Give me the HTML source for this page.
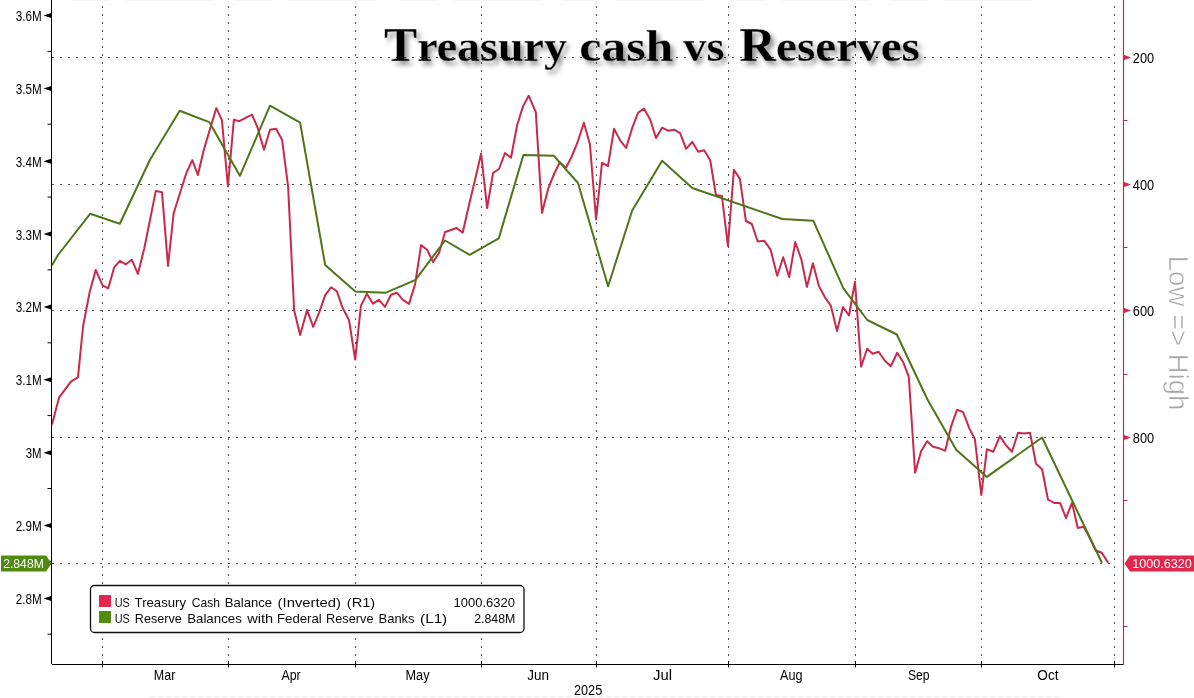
<!DOCTYPE html>
<html><head><meta charset="utf-8"><title>Treasury cash vs Reserves</title>
<style>
html,body{margin:0;padding:0;background:#fff}
body{width:1194px;height:698px;overflow:hidden;position:relative;font-family:"Liberation Sans",sans-serif}
svg{position:absolute;left:0;top:0;display:block;will-change:transform}
text{font-family:"Liberation Sans",sans-serif}
.t{font-family:"Liberation Serif",serif;font-weight:bold}
</style></head><body>
<svg width="1194" height="698" viewBox="0 0 1194 698">
<defs><filter id="sh" x="-5%" y="-30%" width="110%" height="170%"><feGaussianBlur stdDeviation="2.6"/></filter></defs>
<rect width="1194" height="698" fill="#fff"/>
<g stroke="#555" stroke-width="1" stroke-dasharray="2 6" fill="none"><path d="M102.5 664V0"/><path d="M228.5 664V0"/><path d="M355.5 664V0"/><path d="M481.5 664V0"/><path d="M596.5 664V0"/><path d="M728.5 664V0"/><path d="M855.5 664V0"/><path d="M981.5 664V0"/><path d="M1114.5 664V0"/><path d="M52 57.5H1116"/><path d="M52 184.5H1116"/><path d="M52 310.5H1116"/><path d="M52 437.5H1116"/><path d="M52 563.5H1116"/></g>
<g filter="url(#sh)" opacity="0.42"><text class="t" x="387.5" y="65.0" textLength="182.8" lengthAdjust="spacingAndGlyphs" fill="#000"><tspan font-size="47.5">T</tspan><tspan font-size="44">reasury</tspan></text><text class="t" x="582.7" y="65.0" textLength="94.0" lengthAdjust="spacingAndGlyphs" fill="#000"><tspan font-size="44">c</tspan><tspan font-size="44">ash</tspan></text><text class="t" x="686.7" y="65.0" textLength="41.1" lengthAdjust="spacingAndGlyphs" fill="#000"><tspan font-size="44">v</tspan><tspan font-size="44">s</tspan></text><text class="t" x="742.7" y="65.0" textLength="180.6" lengthAdjust="spacingAndGlyphs" fill="#000"><tspan font-size="47.5">R</tspan><tspan font-size="44">eserves</tspan></text>
</g><polyline fill="none" stroke="#c92a4b" stroke-width="2" stroke-linejoin="round" points="52,424.4 59,397.7 70.7,381.8 78,377.2 83.1,326 89.7,292 95.7,269.9 102.6,285.4 108.2,288.4 114.2,267.3 119.8,260.9 125.8,264.3 131.8,259.7 137.9,273.9 144.3,248.3 150,220 155.8,190.9 162,192.2 168,265.9 173.6,213.5 180,193 186.3,173.2 192.3,160.1 197.9,175 203.7,150.2 210,129 216.3,108.1 221.9,120.1 227.9,186.5 233.9,119.7 239.3,121.1 246,117.7 252,114.7 257.4,127.1 264,149.8 270,129.7 276,128.7 282.1,139.8 288.1,186.6 294.1,310 300.1,334.9 307.1,309.9 313.2,326.9 319.2,312.3 325.2,295.2 331.2,287.2 336.8,291.2 342.8,308.3 349,320 355.2,359.6 360.9,305.9 366.9,293.8 372.9,303.7 379,299.8 385,306.9 391,294.8 397,292.8 403,299.8 409,303.9 415.1,284.2 421.1,245.1 427.1,249.7 433.1,262.1 439.1,252.7 445.1,232 451,230 456.6,228 462.7,232.7 469,205 475,180 481.1,153.5 487.1,208.1 493.1,172.8 499,169 505,153 511,157.8 517.1,125.2 523.1,106.1 528.7,95.7 535.8,112.1 542,213 548.3,188.3 554.3,173.5 559.8,162.2 565.8,168 571.7,156.5 577.5,142.5 583.9,122.8 589.9,144.2 596.1,219.5 602,162.8 608,166 614,128.8 620,140.1 626.1,148 632.1,128.2 638.1,112.7 644.1,108.7 650.3,119.7 656,138 662.1,127.7 668.1,130.7 674,129.7 680.1,133.1 686.1,148.8 692.2,141.8 698.2,151.8 704.2,150.2 710.2,160.2 715.9,195 721.9,196 727.9,245.8 733.9,169.8 739.9,178.9 745.9,221 751.8,224 757.7,241.5 764.1,240.7 770.6,249.7 777.2,275.8 783.2,257.2 789.2,277.2 795.2,242.1 801.2,258.8 806.9,286.9 812.9,263.2 818.9,285.9 824.9,297.3 830.9,305.9 837,331 843,307 849,315.5 855,281.8 861.1,366.8 867.1,348.8 872.7,353.8 878.7,351.8 884.8,360.8 890.8,366.2 897.2,352.8 903.2,362.2 908.8,376.9 915.1,472.8 921.1,451.2 927.1,441.2 933.1,446.8 939.1,448.2 945.2,450.8 951.2,426.1 957.1,409.7 963.1,412.1 969.2,428.1 974.9,439.1 981.3,494.9 986.9,449.2 993.3,451.8 999.9,436.1 1005.9,445.2 1012,451.8 1018,432.7 1024,433.5 1030,432.7 1036,463.8 1042.1,469.2 1048,499.5 1054.1,502.9 1060.1,503.1 1066,518 1072,502.9 1077.8,527.9 1083.7,526.7 1089.8,538 1095.8,550.5 1101.8,552.7 1108.2,562.8"/>
<polyline fill="none" stroke="#51731a" stroke-width="2" stroke-linejoin="round" points="52,265.3 58,255 90.1,213.8 119.8,223.8 150,159.8 179.7,110.7 209.2,122.1 239.9,175.8 270,105.7 300.1,122.7 325.2,265.1 355.3,291.6 385.4,292.8 415.5,279.8 445,240.5 469.7,254.8 498.8,238.3 523.4,155 553.9,155.8 578,183 608.1,286.3 632.2,210.5 662.1,160.8 692.3,188 782.3,219 813.4,220.8 843.4,288.3 867.3,320 896.8,334.5 927.3,399.3 956.2,449.8 986.9,476.9 1042.1,437.5 1101.9,562.8"/>
<mask id="tm" maskUnits="userSpaceOnUse" x="370" y="10" width="570" height="80"><rect x="370" y="10" width="570" height="80" fill="#000"/><text class="t" x="384.1" y="61.2" textLength="182.8" lengthAdjust="spacingAndGlyphs" fill="#fff" stroke="#000" stroke-width="0.3"><tspan font-size="47.5">T</tspan><tspan font-size="44">reasury</tspan></text><text class="t" x="579.3" y="61.2" textLength="94.0" lengthAdjust="spacingAndGlyphs" fill="#fff" stroke="#000" stroke-width="0.3"><tspan font-size="44">c</tspan><tspan font-size="44">ash</tspan></text><text class="t" x="683.3" y="61.2" textLength="41.1" lengthAdjust="spacingAndGlyphs" fill="#fff" stroke="#000" stroke-width="0.3"><tspan font-size="44">v</tspan><tspan font-size="44">s</tspan></text><text class="t" x="739.3" y="61.2" textLength="180.6" lengthAdjust="spacingAndGlyphs" fill="#fff" stroke="#000" stroke-width="0.3"><tspan font-size="47.5">R</tspan><tspan font-size="44">eserves</tspan></text>
</mask><rect x="370" y="10" width="570" height="80" fill="#000" mask="url(#tm)"/>
<path d="M51.5 0V664M52 664.5H1123" fill="none" stroke="#000" stroke-width="1"/>
<path d="M1123.5 0V665" fill="none" stroke="#b8304f" stroke-width="1.15"/>
<g stroke="#000" stroke-width="1"><path d="M102.5 661V667.5"/><path d="M228.5 661V667.5"/><path d="M355.5 661V667.5"/><path d="M481.5 661V667.5"/><path d="M596.5 661V667.5"/><path d="M728.5 661V667.5"/><path d="M855.5 661V667.5"/><path d="M981.5 661V667.5"/><path d="M1114.5 661V667.5"/></g>
<g font-size="14" fill="#000"><text x="15.7" y="20.9" textLength="25.9" lengthAdjust="spacingAndGlyphs">3.6M</text><text x="15.7" y="93.8" textLength="25.9" lengthAdjust="spacingAndGlyphs">3.5M</text><text x="15.7" y="166.6" textLength="25.9" lengthAdjust="spacingAndGlyphs">3.4M</text><text x="15.7" y="239.5" textLength="25.9" lengthAdjust="spacingAndGlyphs">3.3M</text><text x="15.7" y="312.3" textLength="25.9" lengthAdjust="spacingAndGlyphs">3.2M</text><text x="15.7" y="385.2" textLength="25.9" lengthAdjust="spacingAndGlyphs">3.1M</text><text x="25.8" y="458.1" textLength="15.8" lengthAdjust="spacingAndGlyphs">3M</text><text x="15.7" y="530.9" textLength="25.9" lengthAdjust="spacingAndGlyphs">2.9M</text><text x="15.7" y="603.8" textLength="25.9" lengthAdjust="spacingAndGlyphs">2.8M</text></g>
<g fill="#000"><path d="M43.5 15.5L51.2 13.0V18.0Z"/><path d="M43.5 88.4L51.2 85.9V90.9Z"/><path d="M43.5 161.2L51.2 158.7V163.7Z"/><path d="M43.5 234.1L51.2 231.6V236.6Z"/><path d="M43.5 306.9L51.2 304.4V309.4Z"/><path d="M43.5 379.8L51.2 377.3V382.3Z"/><path d="M43.5 452.7L51.2 450.2V455.2Z"/><path d="M43.5 525.5L51.2 523.0V528.0Z"/><path d="M43.5 598.4L51.2 595.9V600.9Z"/></g>
<g stroke="#000" stroke-width="1"><path d="M47.5 51.4H51.5"/><path d="M47.5 124.2H51.5"/><path d="M47.5 197.1H51.5"/><path d="M47.5 269.9H51.5"/><path d="M47.5 342.8H51.5"/><path d="M47.5 415.6H51.5"/><path d="M47.5 488.5H51.5"/><path d="M47.5 561.3H51.5"/><path d="M47.5 634.2H51.5"/></g>
<g font-size="14" fill="#000"><text x="1132.8" y="62.9" textLength="21.3" lengthAdjust="spacingAndGlyphs">200</text><text x="1132.8" y="189.9" textLength="21.3" lengthAdjust="spacingAndGlyphs">400</text><text x="1132.8" y="315.9" textLength="21.3" lengthAdjust="spacingAndGlyphs">600</text><text x="1132.8" y="442.9" textLength="21.3" lengthAdjust="spacingAndGlyphs">800</text></g>
<g fill="#d3294d"><path d="M1131 57.5L1123.5 54.8V60.2Z"/><path d="M1131 184.5L1123.5 181.8V187.2Z"/><path d="M1131 310.5L1123.5 307.8V313.2Z"/><path d="M1131 437.5L1123.5 434.8V440.2Z"/></g>
<g stroke="#b8304f" stroke-width="1"><path d="M1123.5 120.5H1127.5"/><path d="M1123.5 247.5H1127.5"/><path d="M1123.5 374.5H1127.5"/><path d="M1123.5 500.5H1127.5"/><path d="M1123.5 626.5H1127.5"/></g>
<g font-size="14" fill="#000"><text x="153.8" y="679.5" textLength="21.5" lengthAdjust="spacingAndGlyphs">Mar</text><text x="281.4" y="679.5" textLength="19.3" lengthAdjust="spacingAndGlyphs">Apr</text><text x="405.5" y="679.5" textLength="24.0" lengthAdjust="spacingAndGlyphs">May</text><text x="527.3" y="679.5" textLength="21.8" lengthAdjust="spacingAndGlyphs">Jun</text><text x="653.0" y="679.5" textLength="19.0" lengthAdjust="spacingAndGlyphs">Jul</text><text x="780.0" y="679.5" textLength="22.5" lengthAdjust="spacingAndGlyphs">Aug</text><text x="907.9" y="679.5" textLength="21.7" lengthAdjust="spacingAndGlyphs">Sep</text><text x="1037.3" y="679.5" textLength="21.2" lengthAdjust="spacingAndGlyphs">Oct</text><text x="573.9" y="694.8" textLength="28.4" lengthAdjust="spacingAndGlyphs">2025</text></g>
<path d="M1 555.5H46L51.5 563.5L46 571.5H1Z" fill="#528a10"/>
<text x="3.2" y="568.4" font-size="13.5" fill="#fff" textLength="40.6" lengthAdjust="spacingAndGlyphs">2.848M</text>
<path d="M1194 555.5H1130L1124.5 563.5L1130 571.5H1194Z" fill="#e3264b"/>
<text x="1132.2" y="568.4" font-size="13.5" fill="#fff" textLength="59.6" lengthAdjust="spacingAndGlyphs">1000.6320</text>
<rect x="90.5" y="585.5" width="433.5" height="47" rx="4" ry="4" fill="#fff" stroke="#111" stroke-width="1.3"/>
<rect x="99" y="595" width="12" height="12" fill="#e3264b"/><rect x="99" y="611" width="12" height="12" fill="#528a10"/>
<g font-size="13.5" fill="#0a0a0a"><text x="114.7" y="607" textLength="15.2" lengthAdjust="spacingAndGlyphs">US</text><text x="134.6" y="607" textLength="51.4" lengthAdjust="spacingAndGlyphs">Treasury</text><text x="191.8" y="607" textLength="28.2" lengthAdjust="spacingAndGlyphs">Cash</text><text x="224.8" y="607" textLength="47.3" lengthAdjust="spacingAndGlyphs">Balance</text><text x="277.6" y="607" textLength="63.4" lengthAdjust="spacingAndGlyphs">(Inverted)</text><text x="346.8" y="607" textLength="28.4" lengthAdjust="spacingAndGlyphs">(R1)</text><text x="453.6" y="607" textLength="61.3" lengthAdjust="spacingAndGlyphs">1000.6320</text><text x="114.7" y="623" textLength="15.2" lengthAdjust="spacingAndGlyphs">US</text><text x="134.8" y="623" textLength="47.1" lengthAdjust="spacingAndGlyphs">Reserve</text><text x="187.2" y="623" textLength="54.6" lengthAdjust="spacingAndGlyphs">Balances</text><text x="247.2" y="623" textLength="26.0" lengthAdjust="spacingAndGlyphs">with</text><text x="277.0" y="623" textLength="44.8" lengthAdjust="spacingAndGlyphs">Federal</text><text x="326.1" y="623" textLength="47.4" lengthAdjust="spacingAndGlyphs">Reserve</text><text x="378.5" y="623" textLength="36.1" lengthAdjust="spacingAndGlyphs">Banks</text><text x="420.1" y="623" textLength="27.1" lengthAdjust="spacingAndGlyphs">(L1)</text><text x="474.2" y="623" textLength="41.1" lengthAdjust="spacingAndGlyphs">2.848M</text></g>
<mask id="lm" maskUnits="userSpaceOnUse" x="1150" y="245" width="44" height="175"><rect x="1150" y="245" width="44" height="175" fill="#000"/><text transform="translate(1169.4 255.8) rotate(90)" font-size="27.3" fill="#fff" stroke="#000" stroke-width="0.65" textLength="154.5" lengthAdjust="spacingAndGlyphs">Low =&gt; High</text></mask><rect x="1150" y="245" width="44" height="175" fill="#a6a6a6" mask="url(#lm)"/>
<path d="M150 696.5H1060" stroke="#ececec" stroke-width="1" stroke-dasharray="5 3"/><path d="M70 0.5H1050" stroke="#f8f8f8" stroke-width="1" stroke-dasharray="40 14 90 20"/>
</svg>
</body></html>
